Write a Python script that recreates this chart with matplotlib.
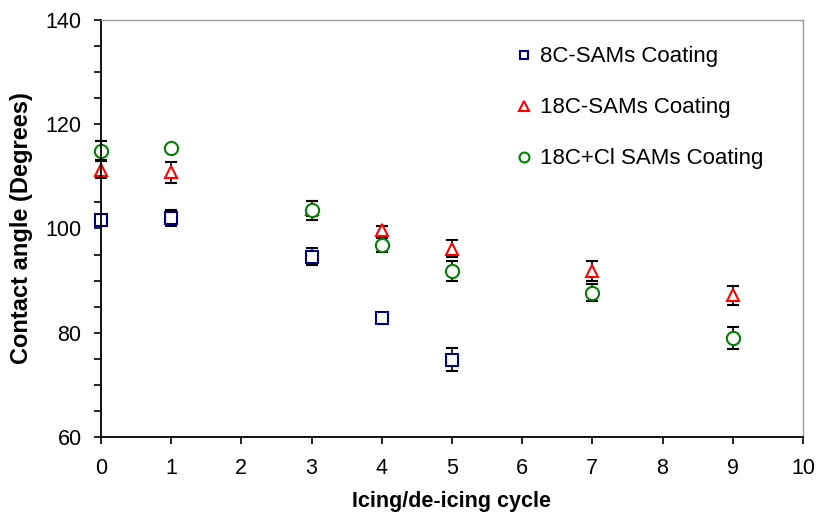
import matplotlib.pyplot as plt
from matplotlib.ticker import MultipleLocator

plt.rcParams['font.family'] = ['Liberation Sans', 'DejaVu Sans']

# data
x_8c = [0, 1, 3, 4, 5]
y_8c = [101.6, 102.0, 94.6, 82.9, 74.8]
e_8c = [0.4, 1.5, 1.7, 0.4, 2.2]

x_18c = [0, 1, 3, 4, 5, 7, 9]
y_18c = [111.3, 110.8, 103.8, 99.7, 96.1, 91.9, 87.2]
e_18c = [1.6, 2.0, 1.5, 0.8, 1.6, 1.9, 1.8]

x_cl = [0, 1, 3, 4, 5, 7, 9]
y_cl = [114.9, 115.4, 103.5, 96.8, 91.8, 87.7, 78.9]
e_cl = [1.8, 0.4, 1.8, 1.4, 1.9, 1.7, 2.1]

fig = plt.figure(figsize=(8.21, 5.14), dpi=100)
ax = fig.add_axes([0.123, 0.150, 0.855, 0.811])

series = [
    (x_8c, y_8c, e_8c, 's', '#000080', 8, '8C-SAMs Coating'),
    (x_18c, y_18c, e_18c, '^', '#ff0000', 9, '18C-SAMs Coating'),
    (x_cl, y_cl, e_cl, 'o', '#008000', 9.5, '18C+Cl SAMs Coating'),
]
for xs, ys, es, m, c, ms, lab in series:
    cont = ax.errorbar(xs, ys, yerr=es, fmt=m, color=c, mfc='white', mec=c, ms=ms,
                       mew=1.5, ecolor='black', elinewidth=1.2, capsize=4.5,
                       capthick=1.2, label=lab)
    for art in cont.get_children():
        art.set_clip_on(False)

ax.set_xlim(0, 10)
ax.set_ylim(60, 140)
ax.xaxis.set_major_locator(MultipleLocator(1))
ax.yaxis.set_major_locator(MultipleLocator(20))
ax.yaxis.set_minor_locator(MultipleLocator(5))
ax.tick_params(axis='both', which='major', labelsize=15.5, direction='out',
               length=5, width=1.2, color='black')
ax.tick_params(axis='y', which='major', pad=9)
ax.tick_params(axis='x', which='major', pad=10)
ax.tick_params(axis='y', which='minor', direction='out', length=5, width=1.2)

for s in ['left', 'bottom']:
    ax.spines[s].set_linewidth(1.3)
for s in ['top', 'right']:
    ax.spines[s].set_color('#999999')
    ax.spines[s].set_linewidth(1.0)

ax.set_xlabel('Icing/de-icing cycle', fontsize=15.5, fontweight='bold', labelpad=9)
ax.set_ylabel('Contact angle (Degrees)', fontsize=17, fontweight='bold', labelpad=9)

handles, labels = ax.get_legend_handles_labels()
handles = [h[0] for h in handles]
ax.legend(handles, labels, loc='upper left', bbox_to_anchor=(0.563, 0.985),
          frameon=False, fontsize=16, labelspacing=1.35, handlelength=0.7,
          handletextpad=0.35, markerscale=0.75)

fig.savefig('out.png', dpi=100)
